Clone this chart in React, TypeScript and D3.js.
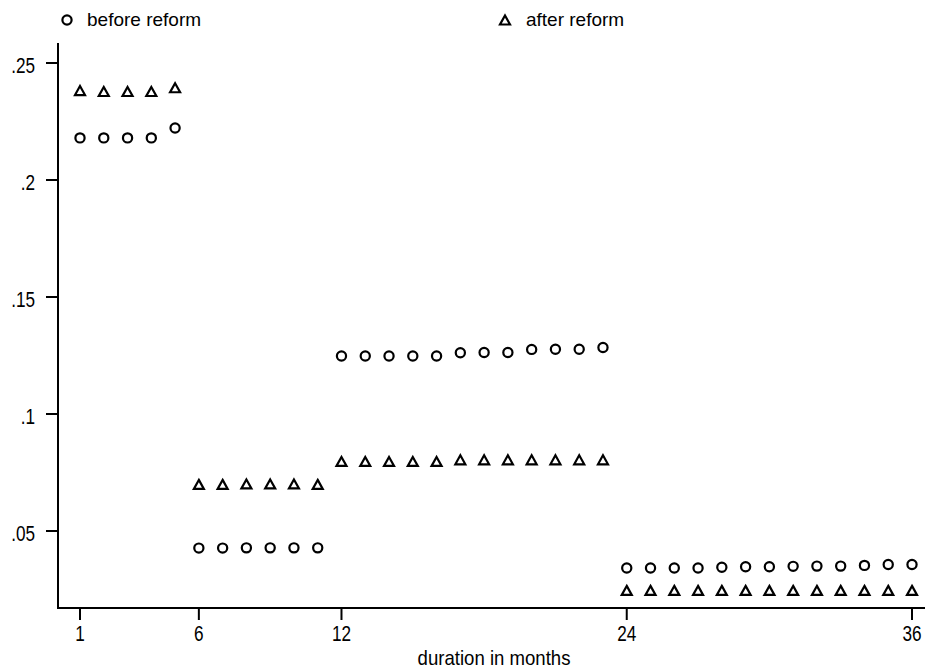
import React from "react";
import * as d3 from "d3";

const months = d3.range(1, 37);
const beforeReform = [
  0.2180, 0.2180, 0.2180, 0.2180, 0.2222,
  0.0427, 0.0427, 0.0428, 0.0428, 0.0428, 0.0428,
  0.1248, 0.1248, 0.1248, 0.1248, 0.1248, 0.1262, 0.1263, 0.1263, 0.1276, 0.1277, 0.1277, 0.1284,
  0.0342, 0.0342, 0.0342, 0.0342, 0.0345, 0.0347, 0.0347, 0.0349, 0.0350, 0.0350, 0.0353, 0.0357, 0.0357,
];
const afterReform = [
  0.2380, 0.2376, 0.2376, 0.2376, 0.2392,
  0.0697, 0.0697, 0.0699, 0.0699, 0.0699, 0.0697,
  0.0795, 0.0795, 0.0795, 0.0795, 0.0795, 0.0802, 0.0802, 0.0802, 0.0802, 0.0802, 0.0802, 0.0802,
  0.0244, 0.0244, 0.0244, 0.0244, 0.0244, 0.0244, 0.0244, 0.0244, 0.0244, 0.0244, 0.0244, 0.0244, 0.0244,
];
const xTicks = [1, 6, 12, 24, 36];
const yTicks = [0.05, 0.1, 0.15, 0.2, 0.25];
const yTickLabels = [".05", ".1", ".15", ".2", ".25"];
const seriesNames = ["before reform", "after reform"];
const xTitle = "duration in months";

const FONT = "'Liberation Sans', Arial, sans-serif";

const x = d3.scaleLinear().domain([1, 36]).range([80, 912]);
const y = d3.scaleLinear().domain([0.05, 0.25]).range([531, 63]);

const triPath = (cx: number, cy: number) => {
  const h = 9, w = 10;
  return `M${cx},${cy - h / 2 - 0.5}L${cx + w / 2},${cy + h / 2 - 0.5}L${cx - w / 2},${cy + h / 2 - 0.5}Z`;
};

const NText = ({ x, y, anchor, size, sx, children }: any) => (
  <text
    transform={`translate(${x},${y}) scale(${sx},1)`}
    textAnchor={anchor}
    fontFamily={FONT}
    fontSize={size}
    fill="#000"
  >
    {children}
  </text>
);

export default function App() {
  const axisLeft = 58;
  const axisBottom = 608;
  const axisTop = 43;
  const axisRight = 925;
  const mStroke = 2.2;
  return (
    <svg width={926} height={671} style={{ position: "absolute", left: 0, top: 0, background: "#fff" }}>
      <rect x={0} y={0} width={926} height={671} fill="#fff" />
      {/* legend */}
      <circle cx={67} cy={20} r={4.6} fill="none" stroke="#000" strokeWidth={mStroke} />
      <NText x={87} y={26} anchor="start" size={19} sx={1.0}>{seriesNames[0]}</NText>
      <path d={triPath(505, 20.5)} fill="none" stroke="#000" strokeWidth={mStroke} />
      <NText x={526} y={26} anchor="start" size={19} sx={1.0}>{seriesNames[1]}</NText>

      {/* axes */}
      <line x1={axisLeft} x2={axisLeft} y1={axisTop} y2={axisBottom + 1} stroke="#000" strokeWidth={2} />
      <line x1={axisLeft - 1} x2={axisRight} y1={axisBottom} y2={axisBottom} stroke="#000" strokeWidth={2} />
      {yTicks.map((t, i) => (
        <g key={"y" + i}>
          <line x1={axisLeft - 12} x2={axisLeft} y1={y(t)} y2={y(t)} stroke="#000" strokeWidth={2} />
          <NText x={35} y={y(t) + 9.5} anchor="end" size={22} sx={0.78}>{yTickLabels[i]}</NText>
        </g>
      ))}
      {xTicks.map((t) => (
        <g key={"x" + t}>
          <line x1={x(t)} x2={x(t)} y1={axisBottom} y2={axisBottom + 12} stroke="#000" strokeWidth={2} />
          <NText x={x(t)} y={641} anchor="middle" size={22} sx={0.78}>{t}</NText>
        </g>
      ))}
      <NText x={494} y={665} anchor="middle" size={20} sx={0.93}>{xTitle}</NText>

      {/* data */}
      {months.map((m, i) => (
        <circle key={"b" + m} cx={x(m)} cy={y(beforeReform[i])} r={4.6} fill="none" stroke="#000" strokeWidth={mStroke} />
      ))}
      {months.map((m, i) => (
        <path key={"a" + m} d={triPath(x(m), y(afterReform[i]))} fill="none" stroke="#000" strokeWidth={mStroke} />
      ))}
    </svg>
  );
}
